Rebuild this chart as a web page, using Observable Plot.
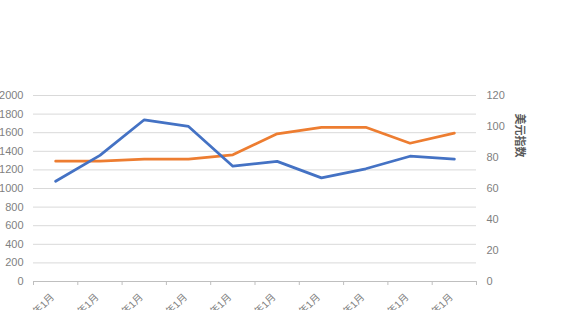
<!DOCTYPE html>
<html>
<head>
<meta charset="utf-8">
<script src="https://cdn.jsdelivr.net/npm/d3@7"></script>
<script src="https://cdn.jsdelivr.net/npm/@observablehq/plot@0.6"></script>
<style>
  html, body { margin: 0; padding: 0; background: #fff; }
  #chart svg { display: block; }
</style>
</head>
<body>
<div id="chart"></div>
<script>
const categories = ["2010年1月","2011年1月","2012年1月","2013年1月","2014年1月","2015年1月","2016年1月","2017年1月","2018年1月","2019年1月"];
const goldPrice = [1078, 1356, 1739, 1667, 1240, 1292, 1114, 1212, 1347, 1316];
const dollarIndex = [77.6, 77.6, 78.9, 78.9, 81.7, 95.3, 99.5, 99.5, 89.2, 95.7];
const leftTicks = [0, 200, 400, 600, 800, 1000, 1200, 1400, 1600, 1800, 2000];
const rightTicks = [0, 20, 40, 60, 80, 100, 120];
const rightTitle = "美元指数";

const k = 2000 / 120;
const gold = categories.map((c, i) => ({i, v: goldPrice[i]}));
const dxy = categories.map((c, i) => ({i, v: dollarIndex[i] * k}));

const chart = Plot.plot({
  width: 565,
  height: 310,
  marginLeft: 33,
  marginRight: 89,
  marginTop: 95,
  marginBottom: 29,
  style: {fontFamily: "'Liberation Sans', 'Noto Sans CJK SC', sans-serif", fontSize: "11px", color: "#7f7f7f", background: "#fff"},
  x: {type: "linear", domain: [0, categories.length]},
  y: {domain: [0, 2000]},
  marks: [
    Plot.ruleY(leftTicks.filter(d => d > 0), {stroke: "#d9d9d9", strokeWidth: 1}),
    Plot.ruleY([0], {stroke: "#bfbfbf", strokeWidth: 1}),
    Plot.axisX({ticks: d3.range(categories.length + 1), tickSize: 4, stroke: "#bfbfbf", tickFormat: () => "", label: null}),
    Plot.axisY({anchor: "left", ticks: leftTicks, tickFormat: d => String(d), tickSize: 0, tickPadding: 10, label: null, fill: "#7f7f7f", fontSize: 11}),
    Plot.axisY({anchor: "right", ticks: rightTicks.map(v => v * k), tickFormat: d => String(Math.round(d / k)), tickSize: 0, tickPadding: 10, label: null, fill: "#7f7f7f", fontSize: 11}),
    Plot.text(categories, {x: (d, i) => i + 0.5, y: 0, text: d => d, rotate: -45, textAnchor: "end", dx: -3, dy: 14, fill: "#7f7f7f", fontSize: 10}),
    Plot.text([rightTitle], {frameAnchor: "top-right", textAnchor: "middle", dx: 47, dy: 40, rotate: 90, text: d => d, fill: "#595959", fontSize: 11, fontWeight: "bold"}),
    Plot.line(dxy, {x: d => d.i + 0.5, y: "v", stroke: "#ED7D31", strokeWidth: 2.75, strokeLinejoin: "round", strokeLinecap: "round"}),
    Plot.line(gold, {x: d => d.i + 0.5, y: "v", stroke: "#4472C4", strokeWidth: 2.75, strokeLinejoin: "round", strokeLinecap: "round"})
  ]
});
document.getElementById("chart").appendChild(chart);
</script>
</body>
</html>
